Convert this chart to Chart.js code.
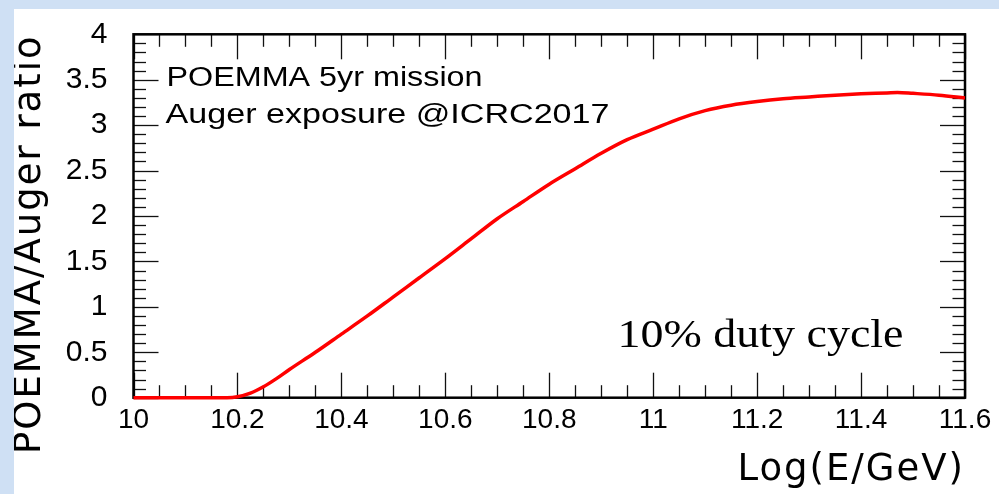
<!DOCTYPE html>
<html><head><meta charset="utf-8">
<script src="https://cdn.jsdelivr.net/npm/chart.js@4"></script>
<style>
html,body{margin:0;padding:0;width:999px;height:494px;overflow:hidden;background:#cfe0f4;}
#wrap{position:absolute;left:14px;top:9px;width:985px;height:485px;background:#fff;}
canvas{display:block;}
</style></head><body>
<div id="wrap"><canvas id="c" width="985" height="485"></canvas></div>
<script>
// ---- data ----
const energy = [10, 10.05, 10.1, 10.15, 10.18, 10.2, 10.225, 10.25, 10.275, 10.3, 10.35, 10.4, 10.45, 10.5, 10.55, 10.6, 10.65, 10.7, 10.75, 10.8, 10.85, 10.9, 10.95, 11.0, 11.05, 11.1, 11.15, 11.2, 11.25, 11.3, 11.35, 11.4, 11.45, 11.47, 11.5, 11.55, 11.6];
const ratio  = [0, 0, 0, 0, 0, 0.01, 0.05, 0.12, 0.21, 0.31, 0.5, 0.7, 0.9, 1.11, 1.32, 1.53, 1.75, 1.97, 2.16, 2.35, 2.52, 2.69, 2.84, 2.955, 3.07, 3.16, 3.22, 3.26, 3.29, 3.31, 3.33, 3.345, 3.355, 3.36, 3.35, 3.33, 3.30];
const xTicks = [10, 10.2, 10.4, 10.6, 10.8, 11, 11.2, 11.4, 11.6];
const yTicks = [0, 0.5, 1, 1.5, 2, 2.5, 3, 3.5, 4];
const xMinorStep = 0.05;
const yMinorStep = 0.1;
const infoLines = ["POEMMA 5yr mission", "Auger exposure @ICRC2017"];
const noteText = "10% duty cycle";
const xTitle = "Log(E/GeV)";
const yTitle = "POEMMA/Auger ratio";

const points = energy.map((e, i) => ({x: e, y: ratio[i]}));

function spacedTitle(scale, spacing) {
  if (scale._spaced) return;
  const orig = scale.drawTitle;
  scale.drawTitle = function(...args) {
    const c = this.ctx;
    const prev = c.letterSpacing;
    c.letterSpacing = spacing;
    orig.apply(this, args);
    c.letterSpacing = prev || '0px';
  };
  scale._spaced = true;
}

const rootFrame = {
  id: 'rootFrame',
  beforeDraw(chart) {
    spacedTitle(chart.scales.y, '2px');
    spacedTitle(chart.scales.x, '2px');
  },
  beforeDatasetsDraw(chart) {
    const {ctx, chartArea: a, scales: {x, y}} = chart;
    ctx.save();
    ctx.strokeStyle = '#111';
    ctx.lineWidth = 1.3;
    const line = (x1, y1, x2, y2) => { ctx.beginPath(); ctx.moveTo(x1, y1); ctx.lineTo(x2, y2); ctx.stroke(); };
    const nx = Math.round((x.max - x.min) / xMinorStep);
    for (let i = 0; i <= nx; i++) {
      const v = x.min + i * xMinorStep;
      const major = xTicks.some(t => Math.abs(t - v) < 1e-6);
      const L = major ? 25 : 12.5;
      const px = Math.round(x.getPixelForValue(v)) + 0.5;
      line(px, a.bottom, px, a.bottom - L);
      line(px, a.top, px, a.top + L);
    }
    const ny = Math.round((y.max - y.min) / yMinorStep);
    for (let i = 0; i <= ny; i++) {
      const v = y.min + i * yMinorStep;
      const major = yTicks.some(t => Math.abs(t - v) < 1e-6);
      const L = major ? 25 : 12.5;
      const py = Math.round(y.getPixelForValue(v)) + 0.5;
      line(a.left, py, a.left + L, py);
      line(a.right, py, a.right - L, py);
    }
    ctx.lineWidth = 2.5;
    ctx.strokeStyle = '#000';
    ctx.strokeRect(a.left, a.top, a.right - a.left, a.bottom - a.top);
    ctx.restore();
  },
  afterDatasetsDraw(chart) {
    const {ctx, chartArea: a} = chart;
    ctx.save();
    ctx.fillStyle = '#000';
    ctx.textBaseline = 'alphabetic';
    ctx.textAlign = 'left';
    const drawFit = (txt, x0, yb, w, font) => {
      ctx.font = font;
      const m = ctx.measureText(txt).width;
      ctx.save();
      ctx.translate(x0, yb);
      ctx.scale(w / m, 1);
      ctx.fillText(txt, 0, 0);
      ctx.restore();
    };
    drawFit(infoLines[0], a.left + 33, a.top + 52, 316, '27px "Liberation Sans"');
    drawFit(infoLines[1], a.left + 32, a.top + 89, 444, '27px "Liberation Sans"');
    drawFit(noteText, a.left + 484, a.top + 313, 286, '41px "Liberation Serif"');
    ctx.restore();
  }
};

new Chart(document.getElementById('c'), {
  type: 'line',
  data: {
    datasets: [{
      data: points,
      borderColor: '#ff0000',
      borderWidth: 3.5,
      pointRadius: 0,
      fill: false,
      cubicInterpolationMode: 'monotone',
      clip: 6
    }]
  },
  options: {
    responsive: false,
    animation: false,
    devicePixelRatio: 1,
    layout: {padding: {left: 0, top: 25.3, right: 34, bottom: 0}},
    plugins: {legend: {display: false}, tooltip: {enabled: false}},
    scales: {
      x: {
        type: 'linear', min: 10, max: 11.6,
        afterBuildTicks: s => { s.ticks = xTicks.map(v => ({value: v})); },
        afterFit: s => { s.height = 96.3; s.paddingLeft = 0; s.paddingRight = 0; },
        grid: {display: false, drawTicks: false},
        border: {display: false},
        ticks: {color: '#000', padding: 6, maxRotation: 0, autoSkip: false,
                font: {family: 'Liberation Sans', size: 28},
                callback: v => String(+v.toFixed(1))},
        title: {display: true, text: xTitle, align: 'end', color: '#000',
                font: {family: 'DejaVu Sans', size: 37, lineHeight: 1.2},
                padding: {top: 0, bottom: 1.3}}
      },
      y: {
        type: 'linear', min: 0, max: 4,
        afterBuildTicks: s => { s.ticks = yTicks.map(v => ({value: v})); },
        afterFit: s => { s.width = 119.5; s.paddingTop = 0; s.paddingBottom = 0; },
        grid: {display: false, drawTicks: false},
        border: {display: false},
        ticks: {color: '#000', padding: 26, autoSkip: false,
                font: {family: 'Liberation Sans', size: 30},
                callback: v => String(+v.toFixed(1))},
        title: {display: true, text: yTitle, align: 'end', color: '#000',
                font: {family: 'DejaVu Sans', size: 37, lineHeight: 0.9},
                padding: {top: 0, bottom: 0}}
      }
    }
  },
  plugins: [rootFrame]
});
</script>
</body></html>
